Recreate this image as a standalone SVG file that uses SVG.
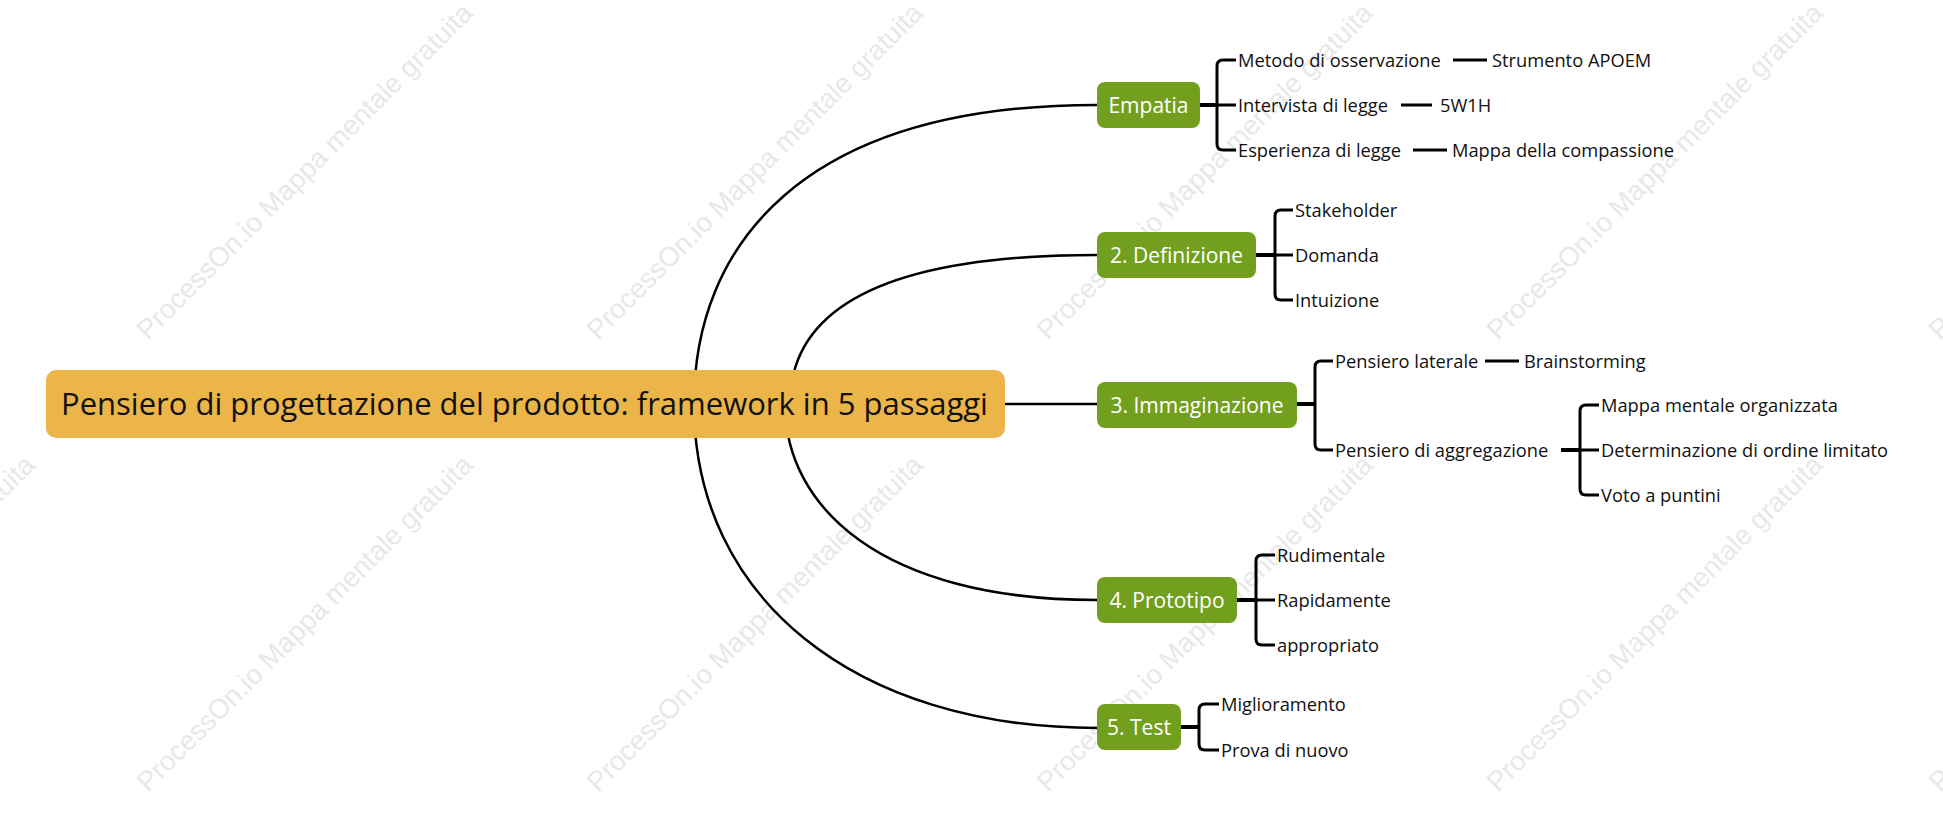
<svg xmlns="http://www.w3.org/2000/svg" width="1943" height="825" viewBox="0 0 1943 825">
<style>
.wm{font-family:"Liberation Sans",Arial,sans-serif;font-size:27.5px;fill:#e8e8e8}
.root{fill:#ebb54a}
.rt{font-family:"Open Sans","Noto Sans",sans-serif;font-size:31px;fill:#111}
.l1{fill:#739f1f}
.l1t{font-family:"Open Sans","Noto Sans",sans-serif;font-size:21px;fill:#fff;text-anchor:middle}
.t{font-family:"Open Sans","Noto Sans",sans-serif;font-size:18.3px;fill:#111}
.main{fill:none;stroke:#000;stroke-width:2.5}
.stem{fill:none;stroke:#000;stroke-width:4}
.br{fill:none;stroke:#000;stroke-width:3}
</style>
<rect width="1943" height="825" fill="#fff"/>
<g id="watermarks">
<text class="wm" transform="translate(148,341) rotate(-45)">ProcessOn.io Mappa mentale gratuita</text>
<text class="wm" transform="translate(598,341) rotate(-45)">ProcessOn.io Mappa mentale gratuita</text>
<text class="wm" transform="translate(1048,341) rotate(-45)">ProcessOn.io Mappa mentale gratuita</text>
<text class="wm" transform="translate(1498,341) rotate(-45)">ProcessOn.io Mappa mentale gratuita</text>
<text class="wm" transform="translate(1940,341) rotate(-45)">ProcessOn.io Mappa mentale gratuita</text>
<text class="wm" transform="translate(-290,793) rotate(-45)">ProcessOn.io Mappa mentale gratuita</text>
<text class="wm" transform="translate(148,793) rotate(-45)">ProcessOn.io Mappa mentale gratuita</text>
<text class="wm" transform="translate(598,793) rotate(-45)">ProcessOn.io Mappa mentale gratuita</text>
<text class="wm" transform="translate(1048,793) rotate(-45)">ProcessOn.io Mappa mentale gratuita</text>
<text class="wm" transform="translate(1498,793) rotate(-45)">ProcessOn.io Mappa mentale gratuita</text>
<text class="wm" transform="translate(1940,793) rotate(-45)">ProcessOn.io Mappa mentale gratuita</text>
</g>
<g id="connectors">
<path class="main" d="M694 404 C694 248 799 105 1097 105"/>
<path class="main" d="M790 404 C790 327 850 255 1097 255"/>
<path class="main" d="M1005 404 H1097"/>
<path class="main" d="M785 404 C785 506 880 600 1097 600"/>
<path class="main" d="M694 404 C694 598 855 728 1097 728"/>
<path class="stem" d="M1200 105 H1217"/>
<path class="br" d="M1236 60 H1223 Q1217 60 1217 66 V144 Q1217 150 1223 150 H1236 M1217 105 H1236"/>
<path class="br" d="M1453 60 H1487 M1401 105 H1432 M1413 150 H1447"/>
<path class="stem" d="M1256 255 H1275"/>
<path class="br" d="M1293 210 H1281 Q1275 210 1275 216 V294 Q1275 300 1281 300 H1293 M1275 255 H1293"/>
<path class="stem" d="M1297 404 H1315"/>
<path class="br" d="M1333 361 H1321 Q1315 361 1315 367 V444 Q1315 450 1321 450 H1333"/>
<path class="br" d="M1485 361 H1519"/>
<path class="stem" d="M1561 450 H1580"/>
<path class="br" d="M1599 405 H1586 Q1580 405 1580 411 V489 Q1580 495 1586 495 H1599 M1580 450 H1599"/>
<path class="stem" d="M1237 600 H1256"/>
<path class="br" d="M1275 555 H1262 Q1256 555 1256 561 V639 Q1256 645 1262 645 H1275 M1256 600 H1275"/>
<path class="stem" d="M1181 727 H1199"/>
<path class="br" d="M1219 704 H1205 Q1199 704 1199 710 V744 Q1199 750 1205 750 H1219"/>
</g>
<g id="root">
<rect class="root" x="46" y="370" width="959" height="68" rx="10"/>
<text class="rt" x="61" y="415">Pensiero di progettazione del prodotto: framework in 5 passaggi</text>
</g>
<g id="empatia">
<rect class="l1" x="1097" y="82" width="103" height="46" rx="8"/>
<text class="l1t" x="1148.5" y="112.5">Empatia</text>
</g>
<g id="empatia-children">
<text class="t" x="1238" y="66.5">Metodo di osservazione</text>
<text class="t" x="1492" y="66.5">Strumento APOEM</text>
<text class="t" x="1238" y="111.5">Intervista di legge</text>
<text class="t" x="1440" y="111.5">5W1H</text>
<text class="t" x="1238" y="156.5">Esperienza di legge</text>
<text class="t" x="1452" y="156.5">Mappa della compassione</text>
</g>
<g id="definizione">
<rect class="l1" x="1097" y="232" width="159" height="46" rx="8"/>
<text class="l1t" x="1176.5" y="262.5">2. Definizione</text>
</g>
<g id="definizione-children">
<text class="t" x="1295" y="216.5">Stakeholder</text>
<text class="t" x="1295" y="261.5">Domanda</text>
<text class="t" x="1295" y="306.5">Intuizione</text>
</g>
<g id="immaginazione">
<rect class="l1" x="1097" y="382" width="200" height="46" rx="8"/>
<text class="l1t" x="1197" y="412.5">3. Immaginazione</text>
</g>
<g id="immaginazione-children">
<text class="t" x="1335" y="367.5">Pensiero laterale</text>
<text class="t" x="1524" y="367.5">Brainstorming</text>
<text class="t" x="1335" y="456.5">Pensiero di aggregazione</text>
<text class="t" x="1601" y="411.5">Mappa mentale organizzata</text>
<text class="t" x="1601" y="456.5">Determinazione di ordine limitato</text>
<text class="t" x="1601" y="501.5">Voto a puntini</text>
</g>
<g id="prototipo">
<rect class="l1" x="1097" y="577" width="140" height="46" rx="8"/>
<text class="l1t" x="1167" y="607.5">4. Prototipo</text>
</g>
<g id="prototipo-children">
<text class="t" x="1277" y="561.5">Rudimentale</text>
<text class="t" x="1277" y="606.5">Rapidamente</text>
<text class="t" x="1277" y="651.5">appropriato</text>
</g>
<g id="test">
<rect class="l1" x="1097" y="704" width="84" height="46" rx="8"/>
<text class="l1t" x="1139" y="734.5">5. Test</text>
</g>
<g id="test-children">
<text class="t" x="1221" y="710.5">Miglioramento</text>
<text class="t" x="1221" y="756.5">Prova di nuovo</text>
</g>
</svg>
